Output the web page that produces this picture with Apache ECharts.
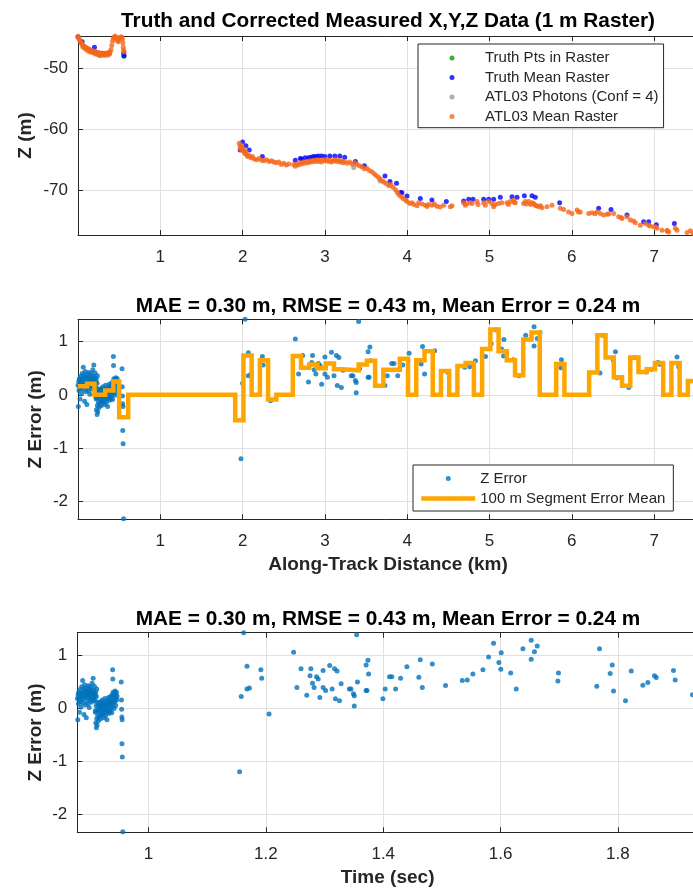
<!DOCTYPE html>
<html>
<head>
<meta charset="utf-8">
<script src="https://cdn.jsdelivr.net/npm/echarts@6/dist/echarts.min.js"></script>
<style>
  html, body { margin: 0; padding: 0; background: #ffffff; }
  #chart { width: 693px; height: 893px; }
</style>
</head>
<body>
<div id="chart"></div>
<script>
// ---------- Panel 1: elevation profile, [along-track km, Z m] ----------
const truthPtsInRaster = [[0.26, -47.8], [0.557, -48.0]];

const truthMeanRaster = [
  [0.00, -44.8], [0.05, -45.6], [0.20, -46.5], [0.555, -47.5], [0.56, -47.9],
  [1.97, -63.4], [2.00, -62.1], [2.04, -62.7], [2.08, -63.4], [2.24, -64.5],
  [2.64, -65.1], [2.70, -64.8], [2.72, -64.9], [2.76, -64.7], [2.80, -64.7],
  [2.83, -64.6], [2.86, -64.5], [2.89, -64.5], [2.92, -64.4], [2.96, -64.4],
  [3.00, -64.5], [3.06, -64.4], [3.12, -64.4], [3.18, -64.4], [3.24, -64.6],
  [3.37, -65.3], [3.48, -66.0], [3.73, -67.7], [3.79, -68.6], [3.87, -68.9],
  [3.92, -70.4], [3.936, -70.45], [3.997, -71.0], [4.159, -71.4], [4.30, -71.65],
  [4.475, -71.9], [4.686, -71.8], [4.747, -71.5], [4.80, -71.5], [4.929, -71.5],
  [4.99, -71.5], [5.05, -71.5], [5.131, -71.2], [5.273, -71.1], [5.334, -71.2],
  [5.423, -70.95], [5.516, -70.95], [5.556, -71.2], [5.852, -72.1], [6.326, -73.0],
  [6.476, -73.2], [6.67, -74.1], [6.873, -75.2], [6.934, -75.2], [7.027, -75.7],
  [7.246, -75.5]
];

const atl03Photons = [[3.35, -66.3], [3.67, -68.5]];

const atl03MeanRaster = [
  // first stretch
  [0.00, -44.7], [0.01, -45.0], [0.02, -45.3], [0.03, -45.6], [0.04, -45.8],
  [0.05, -46.0], [0.06, -46.2], [0.07, -46.3], [0.08, -46.4], [0.09, -46.5],
  [0.10, -46.6], [0.11, -46.7], [0.12, -46.8], [0.13, -46.8], [0.14, -46.9],
  [0.15, -47.0], [0.16, -47.0], [0.17, -47.1], [0.18, -47.1], [0.19, -47.2],
  [0.20, -47.2], [0.21, -47.3], [0.22, -47.3], [0.23, -47.4], [0.24, -47.4],
  [0.25, -47.4], [0.26, -47.5], [0.27, -47.5], [0.28, -47.5], [0.29, -47.5],
  [0.30, -47.5], [0.31, -47.5], [0.32, -47.6], [0.33, -47.5], [0.34, -47.5],
  [0.35, -47.5], [0.36, -47.5], [0.37, -47.4], [0.38, -47.4], [0.39, -47.3],
  [0.40, -46.9], [0.41, -46.2], [0.42, -45.5], [0.43, -45.0], [0.44, -44.8],
  [0.45, -44.7], [0.46, -44.8], [0.47, -45.0], [0.48, -45.4], [0.49, -45.6],
  [0.50, -45.2], [0.51, -44.9], [0.52, -44.8], [0.53, -44.8], [0.54, -45.2],
  [0.545, -45.8], [0.55, -46.5], [0.555, -47.0], [0.56, -47.3],
  // lower edge of the first stretch
  [0.06, -46.5], [0.09, -46.8], [0.12, -47.1], [0.15, -47.3], [0.18, -47.4],
  [0.21, -47.6], [0.24, -47.7], [0.27, -47.8], [0.30, -47.8], [0.33, -47.8],
  [0.36, -47.8], [0.385, -47.6],
  // second stretch
  [1.96, -62.3], [1.97, -62.8], [1.975, -63.3], [1.98, -62.6], [1.99, -63.0],
  [2.00, -63.5], [2.01, -63.2], [2.02, -63.8], [2.03, -64.0], [2.04, -63.6],
  [2.05, -64.2], [2.06, -64.5], [2.08, -64.3], [2.10, -64.7], [2.12, -64.5],
  [2.14, -64.9], [2.17, -65.0], [2.20, -64.8], [2.23, -65.1], [2.26, -65.2],
  [2.29, -65.0], [2.32, -65.3], [2.35, -65.2], [2.38, -65.4], [2.41, -65.5],
  [2.44, -65.4], [2.47, -65.8], [2.50, -65.6], [2.53, -65.9], [2.56, -65.7],
  [2.62, -65.8], [2.64, -66.1], [2.66, -65.7], [2.68, -65.9], [2.70, -65.5],
  [2.72, -65.7], [2.74, -65.4], [2.76, -65.6], [2.78, -65.3], [2.80, -65.5],
  [2.82, -65.2], [2.84, -65.4], [2.86, -65.1], [2.88, -65.3], [2.90, -65.0],
  [2.92, -65.3], [2.94, -65.1], [2.96, -65.4], [2.98, -65.0], [3.00, -65.2],
  [3.02, -65.0], [3.04, -65.3], [3.06, -65.1], [3.08, -65.4], [3.10, -65.2],
  [3.12, -65.0], [3.14, -65.3], [3.16, -65.1], [3.18, -65.4], [3.20, -65.2],
  [3.22, -65.5], [3.24, -65.3], [3.27, -65.6], [3.30, -65.4], [3.33, -65.7],
  [3.36, -65.5], [3.39, -65.8], [3.42, -66.0], [3.45, -66.2], [3.48, -66.5],
  [3.51, -66.4], [3.54, -66.8], [3.57, -67.0], [3.60, -67.3], [3.62, -67.6],
  [3.65, -67.9], [3.67, -68.2], [3.70, -68.5], [3.72, -68.7], [3.75, -69.0],
  [3.78, -69.3], [3.80, -69.1], [3.83, -69.6], [3.86, -70.0], [3.88, -70.4],
  [3.90, -70.8], [3.93, -71.1], [3.95, -71.4], [3.98, -71.7], [4.00, -71.9],
  [4.03, -72.2],
  [4.058, -72.1], [4.08, -72.4], [4.12, -72.6], [4.139, -72.1], [4.18, -72.3],
  [4.22, -72.5], [4.24, -72.7], [4.26, -72.4], [4.30, -72.5], [4.33, -72.3],
  [4.36, -72.65], [4.40, -72.8], [4.443, -72.5], [4.524, -72.76], [4.544, -72.6],
  [4.686, -72.1], [4.706, -72.5], [4.72, -72.3], [4.767, -72.1], [4.787, -72.2],
  [4.848, -71.9], [4.86, -72.4], [4.929, -72.1], [4.949, -72.5], [4.99, -71.9],
  [5.03, -72.2], [5.05, -72.76], [5.07, -72.4], [5.11, -72.2], [5.15, -72.1],
  [5.213, -72.1], [5.23, -72.4], [5.253, -71.9], [5.293, -71.65], [5.30, -72.0],
  [5.313, -72.1], [5.415, -72.2], [5.435, -71.9], [5.45, -72.3], [5.476, -71.9],
  [5.50, -72.4], [5.516, -72.1], [5.536, -72.2], [5.556, -72.5], [5.57, -72.6],
  [5.597, -72.76], [5.62, -72.6], [5.637, -72.9], [5.698, -72.76], [5.759, -72.5],
  [5.86, -73.0], [5.90, -73.2], [5.96, -73.6], [6.002, -73.85], [6.063, -73.3],
  [6.08, -73.6], [6.103, -73.6], [6.205, -73.85], [6.245, -73.75], [6.28, -73.9],
  [6.306, -73.6], [6.346, -73.85], [6.387, -74.1], [6.43, -74.0], [6.448, -73.95],
  [6.508, -73.85], [6.569, -74.4], [6.60, -74.5], [6.61, -74.7], [6.67, -74.4],
  [6.711, -74.95], [6.75, -75.1], [6.772, -75.4], [6.832, -75.8], [6.893, -75.5],
  [6.934, -75.8], [6.95, -75.9], [6.995, -76.05], [7.02, -76.1], [7.035, -76.3],
  [7.096, -76.6], [7.157, -76.6], [7.16, -76.8], [7.177, -76.9], [7.258, -76.3],
  [7.278, -76.6], [7.40, -77.0], [7.44, -76.7], [7.472, -77.1], [7.49, -77.3]
];

// ---------- Panels 2 & 3: Z error per raster cell ----------
// along-track distance (km)
const errDist = [
  0.000,0.004,0.008,0.012,0.016,0.020,0.024,0.028,0.032,0.036,
  0.040,0.044,0.048,0.052,0.056,0.060,0.064,0.068,0.072,0.076,
  0.080,0.084,0.088,0.092,0.096,0.100,0.104,0.108,0.112,0.116,
  0.120,0.124,0.128,0.132,0.136,0.140,0.144,0.148,0.152,0.156,
  0.160,0.164,0.168,0.172,0.176,0.180,0.184,0.188,0.192,0.196,
  0.200,0.204,0.208,0.212,0.216,0.220,0.224,0.228,0.232,0.236,
  0.220,0.224,0.228,0.232,0.236,0.240,0.244,0.248,0.252,0.256,
  0.260,0.264,0.268,0.272,0.276,0.280,0.284,0.288,0.292,0.296,
  0.300,0.304,0.308,0.312,0.316,0.320,0.324,0.328,0.332,0.336,
  0.340,0.344,0.348,0.352,0.356,0.360,0.364,0.368,0.372,0.376,
  0.380,0.384,0.388,0.392,0.396,0.400,0.404,0.408,0.412,0.416,
  0.420,0.424,0.428,0.432,0.436,0.440,0.444,0.448,0.452,0.456,
  0.460,0.464,0.468,0.472,0.476,0.480,0.484,
  0.430,0.432,0.535,0.538,0.540,0.542,0.546,0.544,0.548,0.554,
  1.98,2.00,2.03,2.07,2.07,2.10,2.24,2.25,2.34,2.64,
  2.68,2.73,2.80,2.84,2.85,2.87,2.89,2.92,2.94,2.96,
  3.00,3.00,3.03,3.08,3.11,3.14,3.15,3.17,3.20,3.22,
  3.32,3.34,3.37,3.38,3.38,3.41,3.42,3.525,3.547,3.555,
  3.525,3.536,3.729,3.758,3.811,3.839,3.885,3.946,4.023,4.169,
  4.186,4.211,4.333,4.495,4.699,4.760,4.829,4.951,5.020,5.081,
  5.146,5.175,5.170,5.290,5.358,5.440,5.541,5.541,5.580,5.614,
  5.874,5.866,6.342,6.375,6.530,6.505,6.546,6.692,6.762,6.904,
  6.965,7.046,7.067,7.278,7.299,7.510
];
// photon time (sec)
const errTime = [
  0.8787,0.8793,0.8798,0.8804,0.8809,0.8815,0.8821,0.8826,0.8832,0.8837,
  0.8843,0.8848,0.8854,0.8860,0.8865,0.8871,0.8876,0.8882,0.8888,0.8893,
  0.8899,0.8904,0.8910,0.8915,0.8921,0.8927,0.8932,0.8938,0.8943,0.8949,
  0.8955,0.8960,0.8966,0.8971,0.8977,0.8982,0.8988,0.8994,0.8999,0.9005,
  0.9010,0.9016,0.9022,0.9027,0.9033,0.9038,0.9044,0.9049,0.9055,0.9061,
  0.9066,0.9072,0.9077,0.9083,0.9089,0.9094,0.9100,0.9105,0.9111,0.9116,
  0.9094,0.9100,0.9105,0.9111,0.9116,0.9122,0.9128,0.9133,0.9139,0.9144,
  0.9150,0.9156,0.9161,0.9167,0.9172,0.9178,0.9183,0.9189,0.9195,0.9200,
  0.9206,0.9211,0.9217,0.9223,0.9228,0.9234,0.9239,0.9245,0.9250,0.9256,
  0.9262,0.9267,0.9273,0.9278,0.9284,0.9290,0.9295,0.9301,0.9306,0.9312,
  0.9317,0.9323,0.9329,0.9334,0.9340,0.9345,0.9351,0.9357,0.9362,0.9368,
  0.9373,0.9379,0.9384,0.9390,0.9396,0.9401,0.9407,0.9412,0.9418,0.9424,
  0.9429,0.9435,0.9440,0.9446,0.9452,0.9457,0.9463,
  0.9387,0.9390,0.9534,0.9538,0.9541,0.9544,0.9549,0.9546,0.9552,0.9560,
  1.1551,1.1579,1.1621,1.1677,1.1677,1.1719,1.1914,1.1928,1.2054,1.2472,
  1.2528,1.2598,1.2696,1.2752,1.2766,1.2794,1.2821,1.2863,1.2891,1.2919,
  1.2975,1.2975,1.3017,1.3087,1.3129,1.3170,1.3184,1.3212,1.3254,1.3282,
  1.3422,1.3450,1.3492,1.3506,1.3506,1.3547,1.3561,1.3708,1.3739,1.3750,
  1.3708,1.3723,1.3993,1.4033,1.4107,1.4146,1.4211,1.4296,1.4403,1.4607,
  1.4631,1.4666,1.4836,1.5062,1.5347,1.5432,1.5528,1.5699,1.5795,1.5880,
  1.5971,1.6011,1.6004,1.6172,1.6267,1.6381,1.6522,1.6522,1.6577,1.6624,
  1.6987,1.6976,1.7640,1.7686,1.7903,1.7868,1.7925,1.8129,1.8227,1.8425,
  1.8510,1.8623,1.8653,1.8947,1.8976,1.9271
];
// Z error (m)
const errZ = [
  0.18,-0.22,0.25,0.08,0.30,0.15,-0.08,0.22,0.35,0.12,
  0.27,0.02,0.20,0.40,0.16,0.30,0.52,0.10,0.24,0.36,
  -0.12,0.19,0.44,0.28,0.06,0.33,0.22,-0.18,0.38,0.14,
  0.26,0.31,0.08,0.42,0.20,0.29,0.01,0.24,0.35,0.17,
  0.40,0.26,0.11,0.32,0.21,0.47,0.27,0.14,0.56,0.34,
  0.20,0.29,0.41,0.15,0.24,-0.05,0.30,0.12,0.22,0.36,
  -0.08,-0.28,0.04,-0.37,-0.20,-0.32,-0.05,-0.14,0.06,-0.24,
  -0.02,0.10,-0.16,0.02,-0.08,0.12,-0.20,0.04,-0.11,0.08,
  -0.03,0.15,-0.13,0.01,-0.06,0.10,-0.18,0.05,-0.09,0.18,
  -0.01,-0.14,0.07,-0.04,0.12,-0.22,0.03,0.14,-0.07,0.06,
  0.20,-0.10,0.09,-0.02,0.16,-0.06,0.08,0.22,0.00,0.12,
  -0.09,0.25,0.04,0.14,0.30,0.10,0.20,-0.01,0.28,0.12,
  0.32,0.18,0.05,0.25,0.30,0.15,0.22,
  0.72,0.55,0.49,0.15,-0.02,-0.17,-0.22,-0.67,-0.92,-2.33,
  -1.20,0.22,1.42,0.79,0.36,0.38,0.72,0.56,-0.11,1.05,
  0.39,0.74,0.24,0.61,0.74,0.47,0.39,0.59,0.55,0.20,
  0.39,0.71,0.33,0.80,0.36,0.74,0.175,0.70,0.14,0.46,
  0.36,0.36,0.27,0.23,0.04,1.38,0.49,0.81,0.90,0.64,
  0.33,0.33,0.175,0.36,0.59,0.59,0.36,0.56,0.78,0.58,
  0.91,0.39,0.83,0.425,0.52,0.53,0.64,0.72,0.96,1.22,
  0.86,1.04,0.73,0.66,0.36,1.12,1.28,0.92,1.06,1.17,
  0.66,0.51,0.41,1.12,0.81,0.65,0.32,0.14,0.70,0.43,
  0.48,0.61,0.575,0.71,0.53,0.25
];

// 100 m segment means: segment start (km) and mean error (m); last edge closes the final step
const segEdge = [
  0.00, 0.11, 0.20, 0.33, 0.43, 0.50, 0.61, 1.91, 2.01, 2.11,
  2.21, 2.31, 2.41, 2.61, 2.71, 2.81, 2.91, 3.01, 3.11, 3.21,
  3.41, 3.51, 3.61, 3.71, 3.91, 4.01, 4.11, 4.21, 4.31, 4.41,
  4.51, 4.61, 4.71, 4.81, 4.91, 5.01, 5.11, 5.21, 5.31, 5.41,
  5.51, 5.61, 5.81, 5.91, 6.21, 6.31, 6.41, 6.51, 6.61, 6.71,
  6.81, 6.91, 7.01, 7.11, 7.21, 7.31, 7.41, 7.54
];
const segMean = [
  0.16, 0.21, 0.00, 0.08, 0.25, -0.42, 0.00, -0.48, 0.74, 0.00,
  0.65, -0.09, 0.00, 0.73, 0.51, 0.57, 0.50, 0.59, 0.48, 0.46,
  0.57, 0.64, 0.17, 0.47, 0.68, 0.00, 0.65, 0.82, 0.00, 0.45,
  0.00, 0.54, 0.60, 0.00, 0.86, 1.23, 0.82, 0.65, 0.37, 1.04,
  1.17, 0.00, 0.58, 0.00, 0.42, 1.12, 0.70, 0.33, 0.17, 0.70,
  0.43, 0.48, 0.60, 0.00, 0.60, 0.00, 0.26, 0.26
];

// axis extents and tick steps
const distRange = [0, 7.533];
const timeRange = [0.8785, 1.9365];
const zRange = [-77.4, -44.65];
const errRange = [-2.34, 1.42];

const titles = [
  'Truth and Corrected Measured X,Y,Z Data (1 m Raster)',
  'MAE = 0.30 m, RMSE = 0.43 m, Mean Error = 0.24 m',
  'MAE = 0.30 m, RMSE = 0.43 m, Mean Error = 0.24 m'
];

// ---------- styling ----------
const FONT = '"Liberation Sans", Arial, Helvetica, sans-serif';
const INK = '#262626';
const GRID_LINE = '#e0e0e0';

const errByDist = errDist.map((d, i) => [d, errZ[i]]);
const errByTime = errTime.map((t, i) => [t, errZ[i]]);
const segLine = segEdge.map((d, i) => [d, segMean[i]]);

function axisPair(kind, gridIndex, range, step, nameOpts) {
  const common = {
    type: 'value', gridIndex: gridIndex,
    min: range[0], max: range[1],
    minInterval: step, maxInterval: step,
    axisLine: { show: true, onZero: false, lineStyle: { color: INK, width: 1 } },
    axisTick: { show: true, inside: true, length: 5, lineStyle: { color: INK, width: 1 } }
  };
  const main = Object.assign({}, common, {
    position: kind === 'x' ? 'bottom' : 'left',
    axisLabel: {
      show: true, color: INK, fontFamily: FONT, fontSize: 17, lineHeight: 17,
      margin: kind === 'x' ? 14 : 10, showMinLabel: false, showMaxLabel: false
    },
    splitLine: { show: true, lineStyle: { color: GRID_LINE, width: 1 } }
  });
  if (nameOpts) {
    Object.assign(main, {
      name: nameOpts.name, nameLocation: 'middle', nameGap: nameOpts.gap,
      nameMoveOverlap: false,
      nameTextStyle: { color: INK, fontFamily: FONT, fontSize: 19, fontWeight: 'bold', lineHeight: 19 }
    });
  }
  const opposite = Object.assign({}, common, {
    position: kind === 'x' ? 'top' : 'right',
    axisLabel: { show: false },
    splitLine: { show: false }
  });
  return [main, opposite];
}

const xAxes = [].concat(
  axisPair('x', 0, distRange, 1, null),
  axisPair('x', 1, distRange, 1, { name: 'Along-Track Distance (km)', gap: 36 }),
  axisPair('x', 2, timeRange, 0.2, { name: 'Time (sec)', gap: 36 })
);
const yAxes = [].concat(
  axisPair('y', 0, zRange, 10, { name: 'Z (m)', gap: 43 }),
  axisPair('y', 1, errRange, 1, { name: 'Z Error (m)', gap: 33 }),
  axisPair('y', 2, errRange, 1, { name: 'Z Error (m)', gap: 32 })
);

const titleTops = [11, 295.5, 608.5];

const legendBase = {
  orient: 'vertical',
  align: 'left',
  backgroundColor: '#ffffff',
  borderColor: INK,
  borderWidth: 1,
  borderRadius: 0,
  itemHeight: 5,
  textStyle: { color: INK, fontFamily: FONT, fontSize: 15, lineHeight: 15 },
  lineStyle: { width: 4.5 },
  selectedMode: false
};

const option = {
  animation: false,
  backgroundColor: '#ffffff',
  title: titles.map((t, i) => ({
    text: t, left: 388, top: titleTops[i], textAlign: 'center', padding: 0,
    textStyle: { color: '#000000', fontFamily: FONT, fontSize: 20.8, fontWeight: 'bold', lineHeight: 20.8 }
  })),
  grid: [
    { left: 78, top: 36, width: 620, height: 199, containLabel: false, outerBoundsMode: 'none' },
    { left: 78, top: 319.3, width: 620, height: 200, containLabel: false, outerBoundsMode: 'none' },
    { left: 77.3, top: 632.7, width: 620.7, height: 199.6, containLabel: false, outerBoundsMode: 'none' }
  ],
  xAxis: xAxes,
  yAxis: yAxes,
  legend: [
    // marker-only entries: the box hugs the dots, so the left padding carries the icon margin
    Object.assign({}, legendBase, {
      left: 418, top: 44, padding: [6.5, 5, 3.7, 31.5], itemWidth: 56, itemGap: 4.5,
      data: ['Truth Pts in Raster', 'Truth Mean Raster', 'ATL03 Photons (Conf = 4)', 'ATL03 Mean Raster']
    }),
    Object.assign({}, legendBase, {
      left: 413, top: 465, padding: [6, 8, 5, 6], itemWidth: 54, itemGap: 5,
      data: ['Z Error', '100 m Segment Error Mean']
    })
  ],
  series: [
    {
      name: 'Truth Pts in Raster', type: 'scatter', xAxisIndex: 0, yAxisIndex: 0,
      symbol: 'circle', symbolSize: 5, itemStyle: { color: '#00a000' }, data: truthPtsInRaster
    },
    {
      name: 'Truth Mean Raster', type: 'scatter', xAxisIndex: 0, yAxisIndex: 0,
      symbol: 'circle', symbolSize: 5, itemStyle: { color: '#0000ff' }, data: truthMeanRaster
    },
    {
      name: 'ATL03 Photons (Conf = 4)', type: 'scatter', xAxisIndex: 0, yAxisIndex: 0,
      symbol: 'circle', symbolSize: 5, itemStyle: { color: '#9a9a9a' }, data: atl03Photons
    },
    {
      name: 'ATL03 Mean Raster', type: 'scatter', xAxisIndex: 0, yAxisIndex: 0,
      symbol: 'circle', symbolSize: 5, itemStyle: { color: '#f5661a' }, data: atl03MeanRaster
    },
    {
      name: 'Z Error', type: 'scatter', xAxisIndex: 2, yAxisIndex: 2,
      symbol: 'circle', symbolSize: 5, itemStyle: { color: '#0072bd' }, data: errByDist
    },
    {
      name: '100 m Segment Error Mean', type: 'line', xAxisIndex: 2, yAxisIndex: 2,
      step: 'end', symbol: 'none', showSymbol: false,
      lineStyle: { color: '#ffa500', width: 4.5, join: 'miter', cap: 'butt' },
      itemStyle: { color: '#ffa500' },
      data: segLine
    },
    {
      name: 'Z Error vs Time', type: 'scatter', xAxisIndex: 4, yAxisIndex: 4,
      symbol: 'circle', symbolSize: 5, itemStyle: { color: '#0072bd' }, data: errByTime
    }
  ]
};

const chart = echarts.init(document.getElementById('chart'), null, { renderer: 'canvas' });
chart.setOption(option);
</script>
</body>
</html>
